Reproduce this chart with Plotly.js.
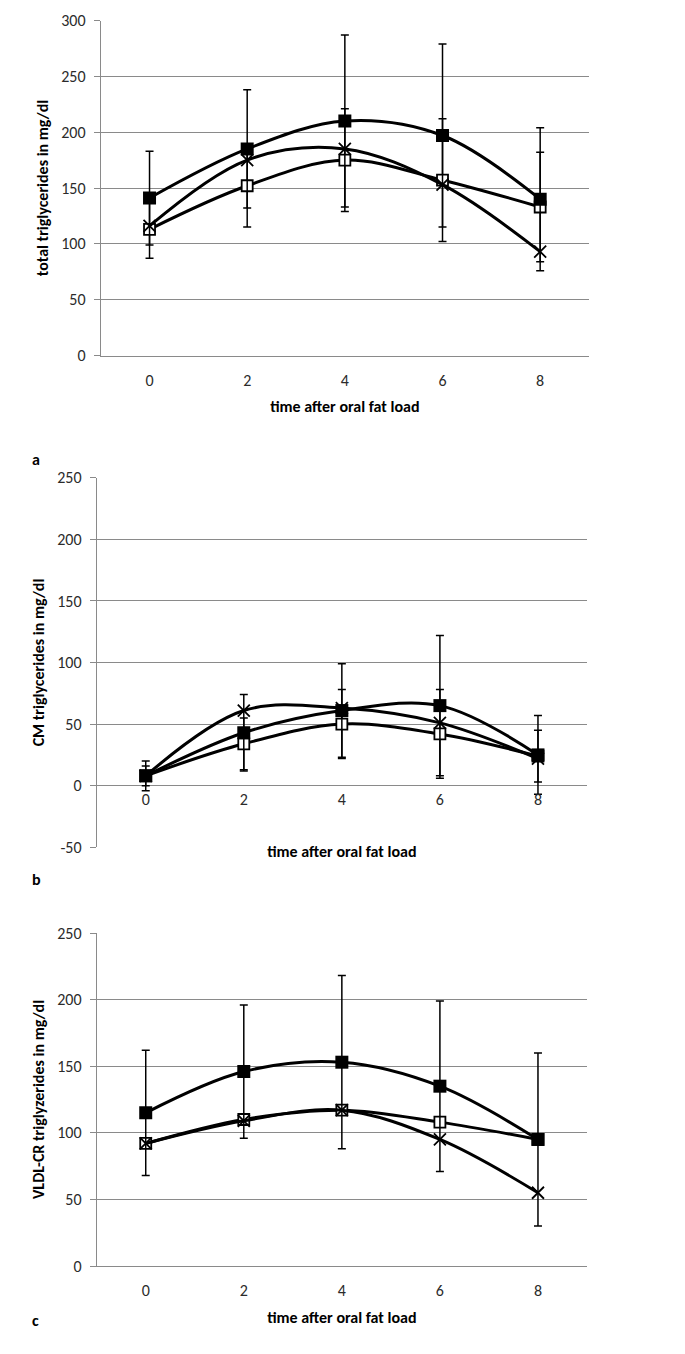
<!DOCTYPE html>
<html>
<head>
<meta charset="utf-8">
<script src="https://cdn.plot.ly/plotly-3.0.1.min.js"></script>
<style>
  html, body { margin: 0; padding: 0; background: #fff; }
  #chart { width: 685px; height: 1354px; }
</style>
</head>
<body>
<div id="chart"></div>
<script>
// ---- data ----
const time = [0, 2, 4, 6, 8];
const timeTicks = ['0', '2', '4', '6', '8'];

// panel a: total triglycerides (mg/dl)
const aFilled    = [141, 185, 210, 197, 140];
const aFilledErr = [42, 53, 77, 82, 64];
const aOpen      = [113, 152, 175, 157, 133];
const aOpenErr   = [26, 37, 46, 55, 49];
const aCross     = [116, 175, 185, 153, 93];

// panel b: CM triglycerides (mg/dl)
const bFilled    = [8, 43, 61, 65, 25];
const bFilledErr = [12, 31, 38, 57, 32];
const bOpen      = [8, 34, 50, 42, 24];
const bOpenErr   = [8, 21, 28, 36, 21];
const bCross     = [8, 61, 63, 51, 22];

// panel c: VLDL-CR triglyzerides (mg/dl)
const cFilled    = [115, 146, 153, 135, 95];
const cFilledErr = [47, 50, 65, 64, 65];
const cOpen      = [92, 110, 117, 108, 95];
const cCross     = [92, 109, 117, 95, 55];

// y tick values / labels
const aTicks = [0, 50, 100, 150, 200, 250, 300];
const aTickText = ['0', '50', '100', '150', '200', '250', '300'];
const bTicks = [-50, 0, 50, 100, 150, 200, 250];
const bTickText = ['-50', '0', '50', '100', '150', '200', '250'];
const cTicks = [0, 50, 100, 150, 200, 250];
const cTickText = ['0', '50', '100', '150', '200', '250'];

const yTitles = ['total triglycerides in mg/dl', 'CM triglycerides in mg/dl', 'VLDL-CR triglyzerides in mg/dl'];
const xTitle = 'time after oral fat load';
const panelLetters = ['a', 'b', 'c'];

// ---- styling ----
const FONT = 'Carlito, Lato, "Liberation Sans", sans-serif';
const GRID = '#8a8a8a';
const W = 685, H = 1354;
const fx = px => px / W;
const fy = px => 1 - px / H;

function lineTrace(y, xa, ya, marker, err) {
  const t = {
    x: time, y: y, xaxis: xa, yaxis: ya,
    type: 'scatter', mode: 'lines+markers',
    line: { color: '#000', width: 3, shape: 'spline', smoothing: 1 },
    marker: marker,
    showlegend: false, hoverinfo: 'skip'
  };
  if (err) {
    t.error_y = { type: 'data', array: err, visible: true, color: '#000', thickness: 1.5, width: 4 };
  }
  return t;
}
const mFilled = { symbol: 'square', size: 13, color: '#000', line: { color: '#000', width: 0 } };
const mOpen   = { symbol: 'square', size: 11, color: '#fff', line: { color: '#000', width: 1.8 } };
const mCross  = { symbol: 'x-thin-open', size: 12, color: '#000', line: { color: '#000', width: 1.8 } };

const data = [
  lineTrace(aOpen,   'x',  'y',  mOpen,   aOpenErr),
  lineTrace(aCross,  'x',  'y',  mCross,  null),
  lineTrace(aFilled, 'x',  'y',  mFilled, aFilledErr),
  lineTrace(bOpen,   'x2', 'y2', mOpen,   bOpenErr),
  lineTrace(bCross,  'x2', 'y2', mCross,  null),
  lineTrace(bFilled, 'x2', 'y2', mFilled, bFilledErr),
  lineTrace(cOpen,   'x3', 'y3', mOpen,   null),
  lineTrace(cCross,  'x3', 'y3', mCross,  null),
  lineTrace(cFilled, 'x3', 'y3', mFilled, cFilledErr)
];

const tickFont = { family: FONT, size: 16, color: '#2b2b2b' };
const titleFont = { family: FONT, size: 16, color: '#000' };

function xAxis(domain, anchor, extra) {
  return Object.assign({
    domain: domain, anchor: anchor, range: [-1, 9],
    tickmode: 'array', tickvals: time, ticktext: timeTicks,
    ticks: '', showgrid: false, zeroline: false,
    showline: true, linecolor: GRID, linewidth: 1,
    tickfont: tickFont, ticklabelstandoff: 10,
    title: { text: '<b>' + xTitle + '</b>', font: titleFont, standoff: 12 },
    fixedrange: true
  }, extra || {});
}
function yAxis(domain, anchor, range, tv, tt, title) {
  return {
    domain: domain, anchor: anchor, range: range,
    tickmode: 'array', tickvals: tv, ticktext: tt,
    ticks: 'outside', ticklen: 6, tickcolor: GRID, tickwidth: 1,
    showgrid: true, gridcolor: GRID, gridwidth: 1,
    zeroline: false, showline: true, linecolor: GRID, linewidth: 1,
    tickfont: tickFont, ticklabelstandoff: 5,
    title: { text: '<b>' + title + '</b>', font: titleFont, standoff: 8 },
    fixedrange: true
  };
}

const aDomY = [fy(355.5), fy(20.5)];
const bDomY = [fy(847.3), fy(477.7)];
const cDomY = [fy(1266), fy(933)];
const aDomX = [fx(100.7), fx(589)];
const bDomX = [fx(96.7), fx(587)];
const cDomX = [fx(96.7), fx(587)];

const bZeroPos = bDomY[0] + (bDomY[1] - bDomY[0]) * (50 / 300);

const layout = {
  width: W, height: H,
  margin: { l: 0, r: 0, t: 0, b: 0 },
  paper_bgcolor: '#fff', plot_bgcolor: 'rgba(0,0,0,0)',
  showlegend: false,
  font: { family: FONT },
  xaxis:  xAxis(aDomX, 'y'),
  yaxis:  yAxis(aDomY, 'x', [0, 300], aTicks, aTickText, yTitles[0]),
  xaxis2: xAxis(bDomX, 'free', { position: bZeroPos, showline: false,
            ticklabelstandoff: 2,
            title: { text: '<b>' + xTitle + '</b>', font: titleFont, standoff: 38 } }),
  yaxis2: yAxis(bDomY, 'x2', [-50, 250], bTicks, bTickText, yTitles[1]),
  xaxis3: xAxis(cDomX, 'y3'),
  yaxis3: yAxis(cDomY, 'x3', [0, 250], cTicks, cTickText, yTitles[2]),
  annotations: [
    { text: '<b>' + panelLetters[0] + '</b>', xref: 'paper', yref: 'paper', x: fx(30), y: fy(448), showarrow: false, font: { family: FONT, size: 16, color: '#000' } },
    { text: '<b>' + panelLetters[1] + '</b>', xref: 'paper', yref: 'paper', x: fx(30), y: fy(879), showarrow: false, font: { family: FONT, size: 16, color: '#000' } },
    { text: '<b>' + panelLetters[2] + '</b>', xref: 'paper', yref: 'paper', x: fx(30), y: fy(1332), showarrow: false, font: { family: FONT, size: 16, color: '#000' } }
  ]
};

Plotly.newPlot('chart', data, layout, { staticPlot: true, displayModeBar: false });
</script>
</body>
</html>
